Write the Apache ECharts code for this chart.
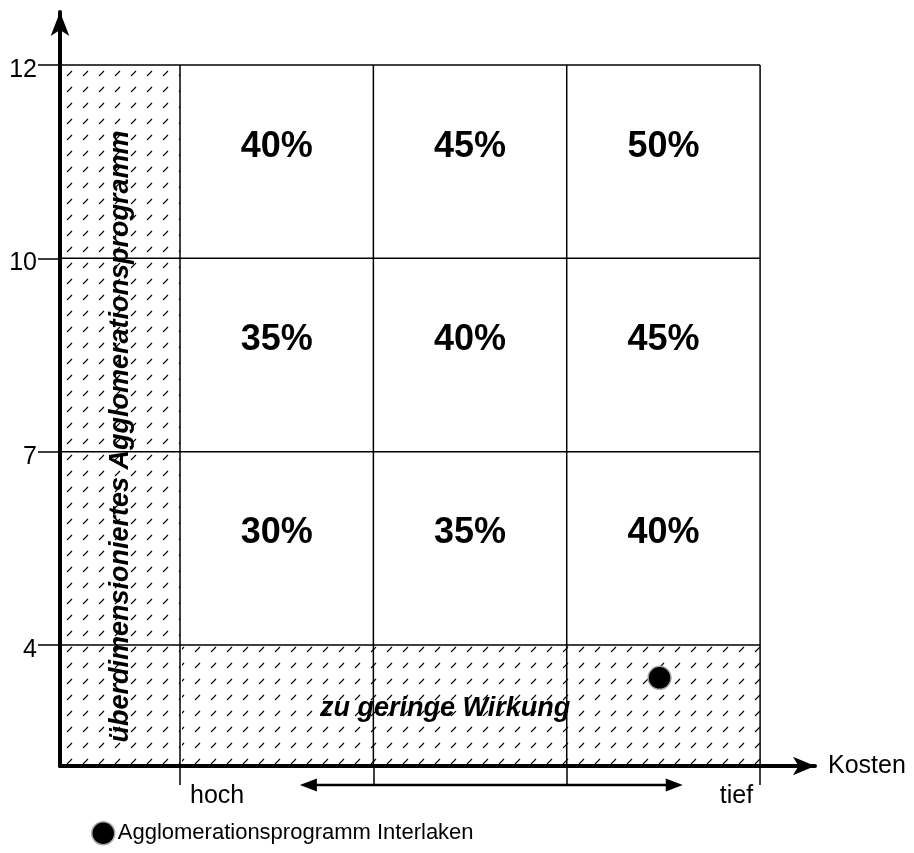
<!DOCTYPE html>
<html><head><meta charset="utf-8">
<script src="https://cdn.jsdelivr.net/npm/echarts@6/dist/echarts.min.js"></script>
<style>html,body{margin:0;padding:0;background:#fff}#c{width:914px;height:853px}</style>
</head><body><div id="c"></div>
<script>
// ---- data ----
const yLevelLabels = ['4', '7', '10', '12'];          // effect levels (axis index 0..3)
const costLabels = ['hoch', 'tief'];                  // cost axis ends (index 0 and 3)
const shareRows = [                                   // bottom row -> top row, hoch -> tief
  [30, 35, 40],
  [35, 40, 45],
  [40, 45, 50]
];
const pointName = 'Agglomerationsprogramm Interlaken';
const pointValue = [2.48, -0.17];
const zoneTexts = ['überdimensioniertes Agglomerationsprogramm', 'zu geringe Wirkung'];
const axisName = 'Kosten';

// ---- layout ----
const X_MIN = -0.6207, X_MAX = 3.284, Y_MIN = -0.6259, Y_MAX = 3.274;
const FONT = '"Liberation Sans", Arial, sans-serif';

// hatch pattern
const pc = document.createElement('canvas'); pc.width = 16; pc.height = 16;
const g = pc.getContext('2d'); g.strokeStyle = '#000'; g.lineWidth = 1.1;
g.beginPath(); g.moveTo(3, 12); g.lineTo(8, 7); g.stroke();
const hatch = { image: pc, repeat: 'repeat' };

const cells = [];
shareRows.forEach((row, r) => row.forEach((v, c) => cells.push([c, r, v])));
const hatchZones = [[X_MIN, Y_MIN, 0, 3], [0, Y_MIN, 3, 0]];
const nCols = shareRows[0].length, nRows = shareRows.length;

const chart = echarts.init(document.getElementById('c'), null, { renderer: 'canvas' });
chart.setOption({
  animation: false,
  backgroundColor: '#fff',
  grid: { left: 60, right: 99, top: 12, bottom: 87 },
  legend: {
    data: [pointName], left: 86, top: 816, icon: 'circle',
    itemWidth: 23, itemHeight: 23, itemGap: 10,
    itemStyle: { color: '#000', borderColor: '#aaa', borderWidth: 1.5, opacity: 1 },
    textStyle: { fontFamily: FONT, fontSize: 22, color: '#000', padding: [0, 0, 0, -2] }
  },
  xAxis: {
    type: 'value', min: X_MIN, max: X_MAX,
    axisLine: { onZero: false, lineStyle: { color: '#000', width: 4 }, symbol: ['none', 'arrow'], symbolSize: [14, 22] },
    axisTick: { show: true, customValues: [0, 1, 2, 3], length: 19, lineStyle: { color: '#000', width: 1.5 } },
    axisLabel: { show: false }, splitLine: { show: false },
    name: axisName, nameGap: 13,
    nameTextStyle: { fontFamily: FONT, fontSize: 25, color: '#000', verticalAlign: 'middle', padding: [6, 0, 0, 0] }
  },
  yAxis: {
    type: 'value', min: Y_MIN, max: Y_MAX,
    axisLine: { onZero: false, lineStyle: { color: '#000', width: 4 }, symbol: ['none', 'arrow'], symbolSize: [14, 24] },
    axisTick: { show: true, customValues: [0, 1, 2, 3], length: 22, lineStyle: { color: '#000', width: 1.5 } },
    axisLabel: {
      customValues: [0, 1, 2, 3], formatter: v => yLevelLabels[Math.round(v)],
      fontFamily: FONT, fontSize: 25, color: '#000', margin: 23,
      verticalAlign: 'top', lineHeight: 10
    },
    splitLine: { show: false }
  },
  series: [
    { // hatched zones
      type: 'custom', silent: true, z: 1,
      data: hatchZones,
      renderItem: (params, api) => {
        const p0 = api.coord([api.value(0), api.value(3)]);
        const p1 = api.coord([api.value(2), api.value(1)]);
        return { type: 'rect', shape: { x: p0[0] + 2, y: p0[1], width: p1[0] - p0[0] - 2, height: p1[1] - p0[1] }, style: { fill: hatch } };
      }
    },
    { // grid lines
      type: 'custom', silent: true, z: 2,
      data: [0],
      renderItem: (params, api) => {
        const ch = [];
        for (let i = 0; i <= nCols; i++) {
          const a = api.coord([i, Y_MIN]), b = api.coord([i, nRows]);
          ch.push({ type: 'line', shape: { x1: a[0], y1: a[1], x2: b[0], y2: b[1] }, style: { stroke: '#000', lineWidth: 1.5 } });
        }
        for (let j = 0; j <= nRows; j++) {
          const a = api.coord([X_MIN, j]), b = api.coord([nCols, j]);
          ch.push({ type: 'line', shape: { x1: a[0], y1: a[1], x2: b[0], y2: b[1] }, style: { stroke: '#000', lineWidth: 1.5 } });
        }
        return { type: 'group', children: ch };
      }
    },
    { // cell percentages
      type: 'custom', silent: true, z: 3,
      data: cells,
      renderItem: (params, api) => {
        const c = api.coord([api.value(0) + 0.5, api.value(1) + 0.5]);
        return { type: 'text', x: c[0], y: c[1] - 15, style: { text: api.value(2) + '%', font: 'bold 36px ' + FONT, fill: '#000', align: 'center', verticalAlign: 'middle' } };
      }
    },
    { // zone texts, cost labels, double arrow
      type: 'custom', silent: true, z: 4,
      data: [0],
      renderItem: (params, api) => {
        const ch = [];
        const t1 = api.coord([X_MIN / 2, (Y_MIN + nRows) / 2]);
        ch.push({ type: 'text', x: t1[0] + 1, y: t1[1] + 21, rotation: Math.PI / 2,
          style: { text: zoneTexts[0], font: 'italic bold 27px ' + FONT, fill: '#000', align: 'center', verticalAlign: 'middle' } });
        const t2 = api.coord([nCols / 2, Y_MIN / 2]);
        ch.push({ type: 'text', x: t2[0] - 25, y: t2[1] + 3,
          style: { text: zoneTexts[1], font: 'italic bold 27px ' + FONT, fill: '#000', align: 'center', verticalAlign: 'middle' } });
        const h = api.coord([0, Y_MIN]), t = api.coord([nCols, Y_MIN]);
        ch.push({ type: 'text', x: h[0] + 10, y: h[1] + 30, style: { text: costLabels[0], font: '25px ' + FONT, fill: '#000', align: 'left', verticalAlign: 'middle' } });
        ch.push({ type: 'text', x: t[0] - 7, y: t[1] + 30, style: { text: costLabels[1], font: '25px ' + FONT, fill: '#000', align: 'right', verticalAlign: 'middle' } });
        const ay = h[1] + 19;
        const ax1 = api.coord([0.62, 0])[0], ax2 = api.coord([2.6, 0])[0];
        ch.push({ type: 'line', shape: { x1: ax1 + 10, y1: ay, x2: ax2 - 10, y2: ay }, style: { stroke: '#000', lineWidth: 2.5 } });
        ch.push({ type: 'polygon', shape: { points: [[ax1, ay], [ax1 + 17, ay - 6.5], [ax1 + 17, ay + 6.5]] }, style: { fill: '#000' } });
        ch.push({ type: 'polygon', shape: { points: [[ax2, ay], [ax2 - 17, ay - 6.5], [ax2 - 17, ay + 6.5]] }, style: { fill: '#000' } });
        return { type: 'group', children: ch };
      }
    },
    {
      name: pointName, type: 'scatter', z: 5,
      data: [pointValue], symbol: 'circle', symbolSize: 23,
      itemStyle: { color: '#000', borderColor: '#aaa', borderWidth: 1.5, opacity: 1 }
    }
  ]
});
</script>
</body></html>
